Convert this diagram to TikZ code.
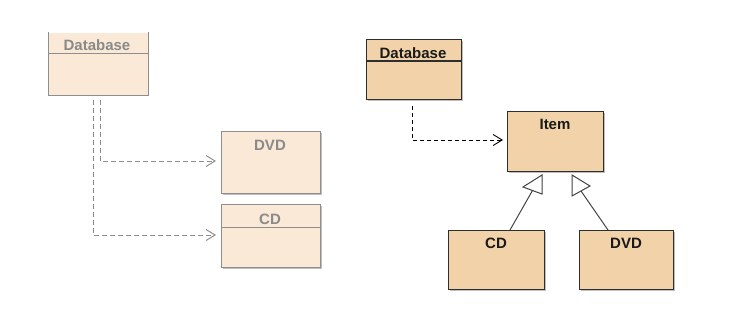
\documentclass[tikz,border=0pt]{standalone}
\usepackage{fontspec}
\setmainfont{Liberation Sans}
\usetikzlibrary{arrows.meta,shadows}
\definecolor{lfill}{HTML}{FAE9D6}
\definecolor{lline}{HTML}{8E8E8E}
\definecolor{ltext}{HTML}{8A8A8A}
\definecolor{rfill}{HTML}{F2D3A9}
\definecolor{rline}{HTML}{2E2E2E}
\definecolor{rtext}{HTML}{1A1A1A}
\tikzset{
  boxshadow/.style={drop shadow={shadow xshift=1.8pt,shadow yshift=-1.8pt,fill=black,opacity=0.25}},
  lbox/.style={rectangle,fill=lfill,draw=lline,line width=1pt,inner sep=0pt,anchor=north west,boxshadow},
  rbox/.style={rectangle,fill=rfill,draw=rline,line width=1.1pt,inner sep=0pt,anchor=north west,boxshadow},
  ltitle/.style={anchor=base,inner sep=0pt,text=ltext,font=\fontsize{15}{15}\selectfont\bfseries},
  rtitle/.style={anchor=base,inner sep=0pt,text=rtext,font=\fontsize{15}{15}\selectfont\bfseries},
  ldep/.style={draw=lline,line width=1pt,dash pattern=on 5pt off 3pt,
    -{Straight Barb[length=9pt,width=11pt,line width=1pt]}},
  rdep/.style={draw=black,line width=0.9pt,dash pattern=on 4pt off 3pt,
    -{Straight Barb[length=9pt,width=11pt,line width=0.9pt]}},
  gen/.style={draw=rline!90,line width=1pt},
  gentri/.style={draw=rline!90,line width=1pt,fill=white,line join=miter},
}
\begin{document}
\begin{tikzpicture}[x=1pt,y=-1pt]
\useasboundingbox (0,0) rectangle (742,325);

% ---- left: Database depends on DVD and CD ----
\node[lbox,draw=none,minimum width=99pt,minimum height=62pt] (dbL) at (48,32) {};
\draw[lline,line width=1pt] (dbL.north west) -- (dbL.south west) -- (dbL.south east) -- (dbL.north east);
\draw[lline,line width=1pt] (dbL.west |- 0,53) -- (dbL.east |- 0,53);
\node[ltitle] (dbLt) at (97,50.5) {Database};

\node[lbox,minimum width=99pt,minimum height=62pt] (dvdL) at (221,131) {};
\node[ltitle] (dvdLt) at (270,150.5) {DVD};

\node[lbox,minimum width=99pt,minimum height=63pt] (cdL) at (221,204) {};
\draw[lline,line width=1pt] (cdL.west |- 0,227) -- (cdL.east |- 0,227);
\node[ltitle] (cdLt) at (270,224.5) {CD};

\draw[ldep] ([yshift=-5pt]dbL.south -| 100,0) |- ([xshift=-5pt]dvdL.west |- 0,161);
\draw[ldep] ([yshift=-5pt]dbL.south -| 93,0) |- ([xshift=-5pt]cdL.west |- 0,235);

% ---- right: Database depends on Item; CD and DVD specialise Item ----
\node[rbox,minimum width=95pt,minimum height=60pt] (dbR) at (366,39) {};
\draw[rline,line width=1.1pt] (dbR.west |- 0,61) -- (dbR.east |- 0,61);
\node[rtitle] (dbRt) at (413,58) {Database};

\node[rbox,minimum width=96pt,minimum height=60pt] (item) at (507,111) {};
\node[rtitle] (itemt) at (555,129.5) {Item};

\node[rbox,minimum width=96pt,minimum height=59pt] (cdR) at (448,230) {};
\node[rtitle] (cdRt) at (496,248.5) {CD};

\node[rbox,minimum width=94pt,minimum height=59pt] (dvdR) at (579,230) {};
\node[rtitle] (dvdRt) at (626,248.5) {DVD};

\draw[rdep] ([yshift=-6pt]dbR.south -| 412,0) |- ([xshift=-4pt]item.west |- 0,140);

% generalisation lines with hollow triangle heads below Item
\coordinate (gcd) at (532.5,190.5);
\coordinate (gdvd) at (581,191);
\draw[gen] (cdR.north -| 510,0) -- (gcd);
\draw[gen] (dvdR.north -| 608,0) -- (gdvd);
\draw[gentri] (523,187) -- (542,175) -- (542,194) -- cycle;
\draw[gentri] (572,175) -- (572,196) -- (590,186) -- cycle;
\end{tikzpicture}
\end{document}
